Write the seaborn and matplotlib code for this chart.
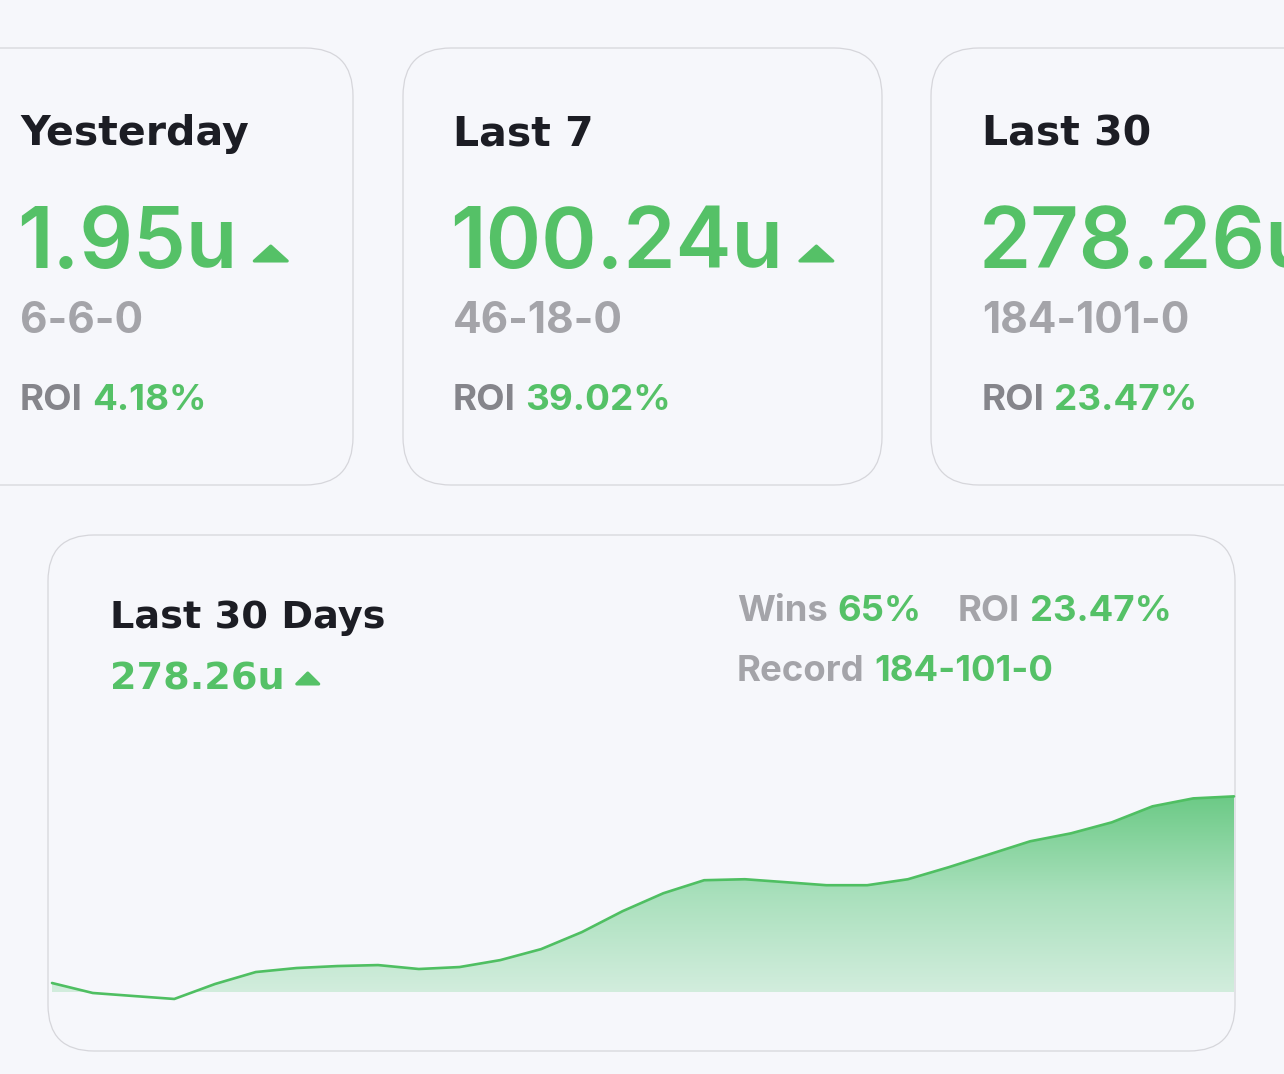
import numpy as np
import matplotlib
matplotlib.use("Agg")
import matplotlib.pyplot as plt
import seaborn as sns
from matplotlib.patches import FancyBboxPatch, Polygon
from matplotlib.colors import LinearSegmentedColormap

# ---------------- data ----------------
card_periods = ["Yesterday", "Last 7", "Last 30"]
card_units = ["1.95u", "100.24u", "278.26u"]
card_records = ["6-6-0", "46-18-0", "184-101-0"]
card_roi = ["4.18%", "39.02%", "23.47%"]

chart_title = "Last 30 Days"
chart_units = "278.26u"
chart_wins = "65%"
chart_roi = "23.47%"
chart_record = "184-101-0"

days = list(range(1, 31))
cumulative_units = [12.8, -1.4, -5.7, -9.9, 11.4, 28.4, 34.1, 36.9, 38.3, 32.7,
                    35.5, 45.4, 61.0, 85.2, 115.0, 140.5, 159.0, 160.4, 156.2, 151.9,
                    151.9, 160.4, 177.5, 195.9, 214.4, 225.7, 241.3, 264.1, 275.4, 278.26]

# ---------------- style ----------------
W, H = 1284, 1074
BG = "#F6F7FB"
GREEN = "#55C167"
DARK = "#1C1D24"
GRAY = "#A4A4A9"
ROI_GRAY = "#85858B"
BORDER = "#D6D6DB"

sns.set_theme(style="white")
plt.rcParams["font.family"] = ["DejaVu Sans"]

fig = plt.figure(figsize=(W / 100, H / 100), dpi=100)
fig.patch.set_facecolor(BG)

bg = fig.add_axes([0, 0, 1, 1])
bg.set_xlim(0, W)
bg.set_ylim(H, 0)
bg.axis("off")
bg.patch.set_alpha(0)

def card(x, y, w, h, r):
    p = FancyBboxPatch((x, y), w, h, boxstyle=f"round,pad=0,rounding_size={r}",
                       facecolor=BG, edgecolor=BORDER, linewidth=0.9, zorder=0)
    bg.add_patch(p)

card(-60, 48, 413, 437, 48)
card(403, 48, 479, 437, 48)
card(931, 48, 500, 437, 48)
card(48, 535, 1187, 516, 46)

fig.canvas.draw()
renderer = fig.canvas.get_renderer()

TITLE_FONT = ["DejaVu Sans"]
NUM_FONT = ["Inter", "DejaVu Sans"]

def put(x, y, s, size, color, family, weight):
    return bg.text(x, y, s, fontsize=size, color=color, family=family,
                   weight=weight, va="baseline", ha="left", zorder=5)

def right_edge(t):
    return t.get_window_extent(renderer=renderer).x1

def triangle(x, ybase, w, h):
    tri = Polygon([(x, ybase), (x + w, ybase), (x + w / 2, ybase - h)], closed=True,
                  facecolor=GREEN, edgecolor=GREEN, linewidth=2.2, joinstyle="round", zorder=5)
    bg.add_patch(tri)

card_x = [20, 453, 982]
for cx, per, un, rec, roi in zip(card_x, card_periods, card_units, card_records, card_roi):
    put(cx, 145, per, 29.5, DARK, TITLE_FONT, "bold")
    t = put(cx - 3, 268, un, 60.5, GREEN, NUM_FONT, "semibold")
    xr = right_edge(t)
    triangle(xr + 17, 261, 33, 15)
    put(cx, 333, rec, 30.5, GRAY, NUM_FONT, "bold")
    t1 = put(cx, 410, "ROI", 26.5, ROI_GRAY, NUM_FONT, "bold")
    put(right_edge(t1) + 9, 410, roi, 26.5, GREEN, NUM_FONT, "bold")

# bottom card texts
put(110, 628, chart_title, 27.5, DARK, TITLE_FONT, "bold")
t = put(110, 689, chart_units, 27.5, GREEN, TITLE_FONT, "bold")
triangle(right_edge(t) + 12, 684, 22, 11)

SZ = 26.3
t1 = put(737, 621, "Wins", SZ, GRAY, NUM_FONT, "bold")
put(right_edge(t1) + 10, 621, chart_wins, SZ, GREEN, NUM_FONT, "bold")
t3 = put(958, 621, "ROI", SZ, GRAY, NUM_FONT, "bold")
put(right_edge(t3) + 10, 621, chart_roi, SZ, GREEN, NUM_FONT, "bold")
t4 = put(737, 681, "Record", SZ, GRAY, NUM_FONT, "bold")
put(right_edge(t4) + 10, 681, chart_record, SZ, GREEN, NUM_FONT, "bold")

# ---------------- area chart ----------------
ax = fig.add_axes([52 / W, (H - 992) / H, (1234 - 52) / W, (992 - 760) / H])
ax.patch.set_alpha(0)

poly = ax.fill_between(days, cumulative_units, 0, color="none", linewidth=0)
cmap = LinearSegmentedColormap.from_list("g", ["#D2EDDD", "#A9E0BC", "#6CCA86"])
grad = np.linspace(0, 1, 256).reshape(-1, 1)
im = ax.imshow(grad, extent=[days[0], days[-1], 0, max(cumulative_units)], origin="lower",
               cmap=cmap, aspect="auto", zorder=1, interpolation="bicubic")
im.set_clip_path(poly.get_paths()[0], transform=ax.transData)

sns.lineplot(x=days, y=cumulative_units, ax=ax, color="#4FBF62", linewidth=1.9,
             clip_on=False, zorder=3)
for ln in ax.lines:
    ln.set_solid_joinstyle("round")
    ln.set_solid_capstyle("round")

ax.set_xlim(days[0], days[-1])
ax.set_ylim(0, 330)
ax.axis("off")

fig.savefig("out.png", dpi=100, facecolor=BG)
